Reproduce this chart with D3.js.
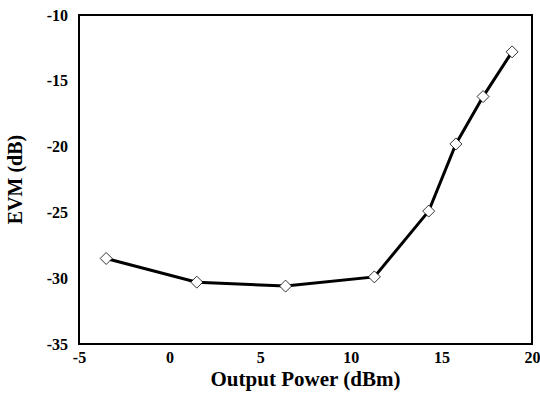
<!DOCTYPE html>
<html>
<head>
<meta charset="utf-8">
<script src="https://cdn.jsdelivr.net/npm/d3@7"></script>
<style>
  body { margin: 0; background: #fff; }
  text { font-family: "Liberation Serif", "Times New Roman", serif; font-weight: bold; fill: #000; }
</style>
</head>
<body>
<div id="vis"></div>
<script>
// data
var outputPower = [-3.5, 1.5, 6.4, 11.3, 14.3, 15.8, 17.3, 18.9];
var evm = [-28.5, -30.3, -30.6, -29.9, -24.9, -19.8, -16.2, -12.8];
var xTicks = [-5, 0, 5, 10, 15, 20];
var yTicks = [-35, -30, -25, -20, -15, -10];

var width = 540, height = 396;
var margin = { top: 15, left: 79, bottom: 52, right: 8 };

var svg = d3.select('#vis').append('svg')
  .attr('width', width)
  .attr('height', height);

var x = d3.scaleLinear().domain([-5, 20]).range([margin.left, width - margin.right]);
var y = d3.scaleLinear().domain([-35, -10]).range([height - margin.bottom, margin.top]);

// plain hyphen for negatives, like the original
var fmt = function(d) { return String(d); };

// frame
svg.append('rect')
  .attr('x', x(-5))
  .attr('y', y(-10))
  .attr('width', x(20) - x(-5))
  .attr('height', y(-35) - y(-10))
  .attr('fill', 'none')
  .attr('stroke', '#000')
  .attr('stroke-width', 2);

// axes (labels only, no tick marks)
var xAxis = d3.axisBottom(x).tickValues(xTicks).tickFormat(fmt).tickSize(0).tickPadding(8);
svg.append('g')
  .attr('transform', 'translate(0,' + y(-35) + ')')
  .call(xAxis)
  .call(function(g) { g.select('.domain').remove(); })
  .selectAll('text')
  .style('font-size', '16px')
  .style('font-family', '"Liberation Serif", serif')
  .style('font-weight', 'bold');

var yAxis = d3.axisLeft(y).tickValues(yTicks).tickFormat(fmt).tickSize(0).tickPadding(11);
svg.append('g')
  .attr('transform', 'translate(' + x(-5) + ',0)')
  .call(yAxis)
  .call(function(g) { g.select('.domain').remove(); })
  .selectAll('text')
  .style('font-size', '16px')
  .style('font-family', '"Liberation Serif", serif')
  .style('font-weight', 'bold');

// axis titles
svg.append('text')
  .attr('x', (x(-5) + x(20)) / 2)
  .attr('y', 386)
  .attr('text-anchor', 'middle')
  .attr('textLength', 190)
  .attr('lengthAdjust', 'spacingAndGlyphs')
  .style('font-size', '20px')
  .text('Output Power (dBm)');

svg.append('text')
  .attr('transform', 'translate(22,' + ((y(-10) + y(-35)) / 2) + ') rotate(-90)')
  .attr('text-anchor', 'middle')
  .style('font-size', '20px')
  .text('EVM (dB)');

var data = outputPower.map(function(d, i) { return { p: d, e: evm[i] }; });

var line = d3.line()
  .x(function(d) { return x(d.p); })
  .y(function(d) { return y(d.e); });

svg.append('path')
  .datum(data)
  .attr('d', line)
  .attr('fill', 'none')
  .attr('stroke', '#000')
  .attr('stroke-width', 3);

svg.selectAll('.pt')
  .data(data)
  .enter().append('path')
  .attr('class', 'pt')
  .attr('transform', function(d) { return 'translate(' + x(d.p) + ',' + y(d.e) + ')'; })
  .attr('d', 'M0,-6L6,0L0,6L-6,0Z')
  .attr('fill', '#fff')
  .attr('stroke', '#000')
  .attr('stroke-width', 0.8);
</script>
</body>
</html>
